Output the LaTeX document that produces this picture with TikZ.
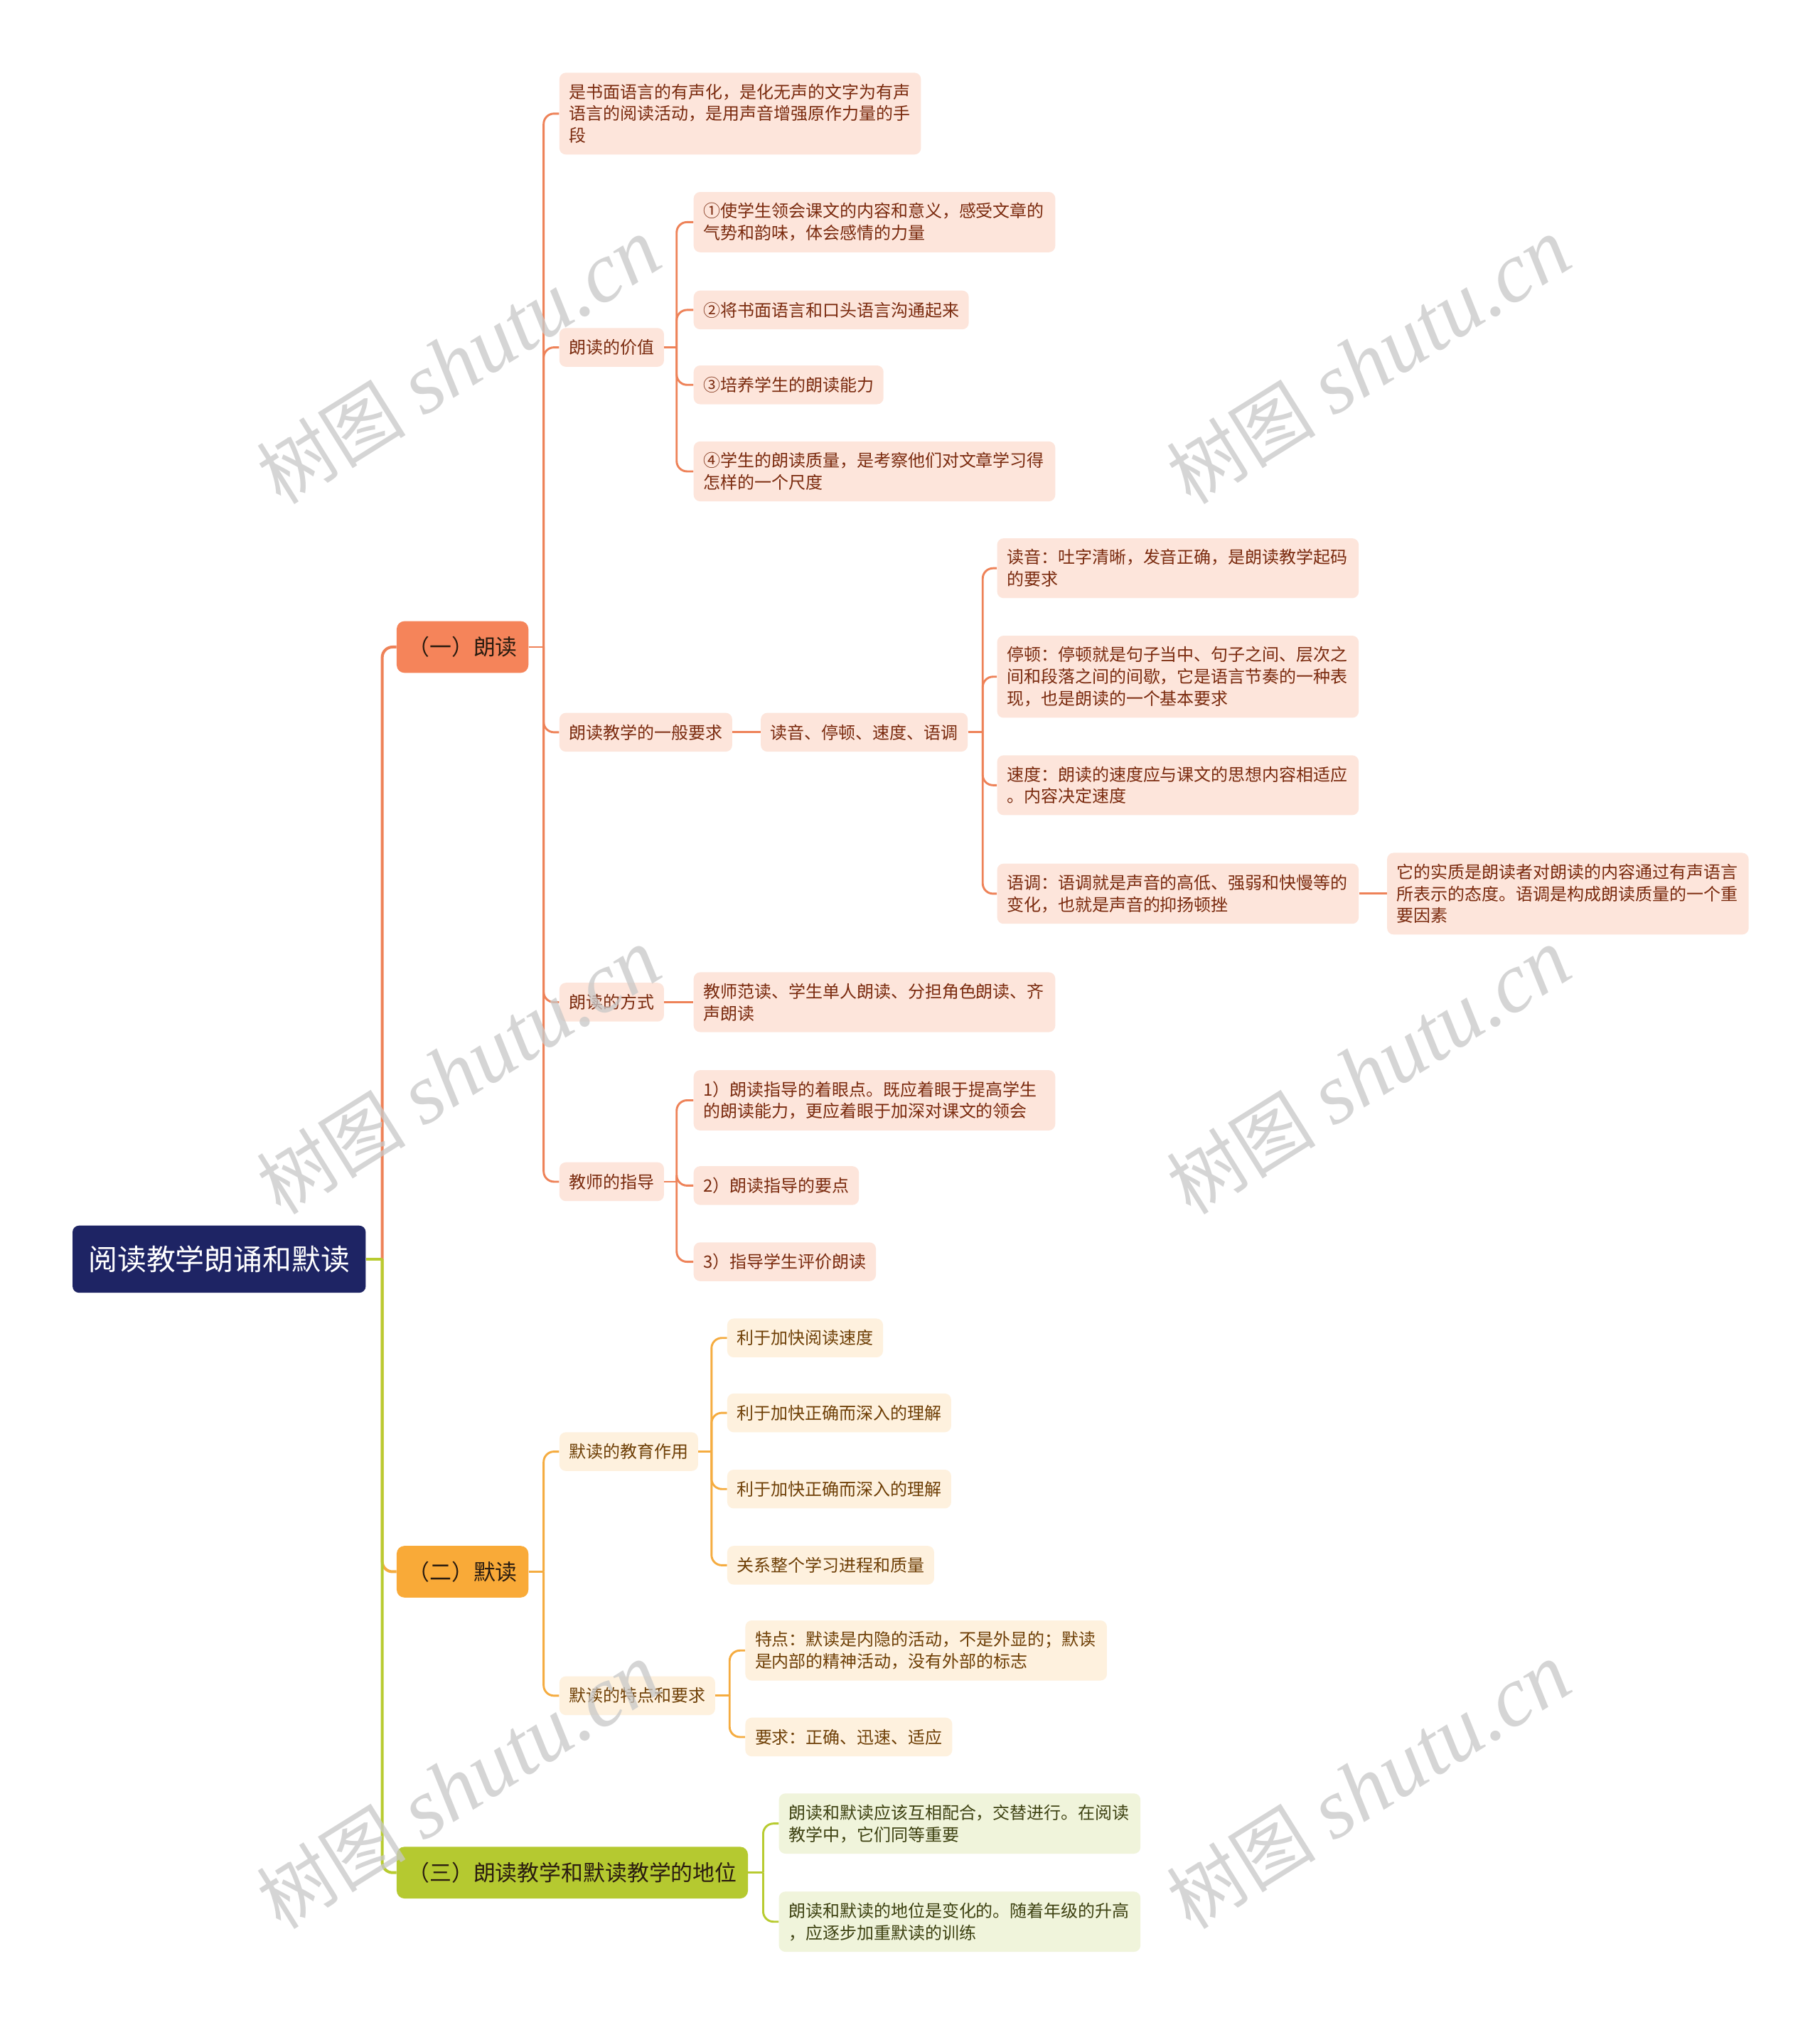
\documentclass[tikz,border=0pt]{standalone}
\usepackage{fontspec}
\newfontfamily\cjk{Noto Sans CJK SC}
\newfontfamily\wmserif{Liberation Serif}
\usetikzlibrary{backgrounds,calc}
\definecolor{navy}{HTML}{1E2464}
\definecolor{fillA}{HTML}{F5845A}
\definecolor{fillB}{HTML}{F9AA38}
\definecolor{fillC}{HTML}{B5C930}
\definecolor{lineA}{HTML}{EE8258}
\definecolor{lineB}{HTML}{F5AC40}
\definecolor{lineC}{HTML}{B8CB30}
\definecolor{subA}{HTML}{FDE5DB}
\definecolor{subB}{HTML}{FEF1DE}
\definecolor{subC}{HTML}{F0F4DB}
\definecolor{txtA}{HTML}{7A2A0E}
\definecolor{txtB}{HTML}{6E3F06}
\definecolor{txtC}{HTML}{3E4212}
\definecolor{txtL}{HTML}{2A1C10}
\definecolor{wmgray}{HTML}{C8C8C8}
\newcommand\mmedge[4]{%
  \coordinate (sx) at (#4,0);
  \coordinate (tmpj) at (#2.east -| sx);
  \draw[#1] (#2.east) -- (tmpj);
  \draw[#1,rounded corners=8pt] (tmpj) |- (#3.west);}
\begin{document}
\begin{tikzpicture}[x=1pt,y=-1pt,
  rootn/.style={fill=navy, text=white, rounded corners=5pt, minimum width=227pt, minimum height=52pt, inner sep=0pt, font=\cjk\fontsize{22.5}{27}\selectfont},
  lone/.style={rounded corners=6pt, minimum height=40pt, inner xsep=8.5pt, inner ysep=0pt, text=txtL, font=\cjk\fontsize{17}{20}\selectfont},
  subn/.style={rounded corners=5pt, inner xsep=7.5pt, inner ysep=8.5pt, minimum height=30pt, align=left, font=\cjk\fontsize{13.2}{17}\selectfont},
  sa/.style={subn, fill=subA, text=txtA},
  sb/.style={subn, fill=subB, text=txtB},
  sc/.style={subn, fill=subC, text=txtC},
  wide/.style={text width=265pt},
  ea/.style={draw=lineA, line width=1.6pt},
  eb/.style={draw=lineB, line width=1.6pt},
  ec/.style={draw=lineC, line width=1.6pt},
  ta/.style={draw=lineA, line width=2.2pt},
  tb/.style={draw=lineB, line width=2.2pt},
  tc/.style={draw=lineC, line width=2.2pt},
  wm/.style={text=wmgray, opacity=0.75, rotate=32, inner sep=0pt}
]
\useasboundingbox (0,0) rectangle (1409,1568);

% root and level 1
\node[rootn, anchor=west] (root) at (56,975) {阅读教学朗诵和默读};
\node[lone, fill=fillA, anchor=west] (n1) at (307,501) {（一）朗读};
\node[lone, fill=fillB, anchor=west] (n2) at (307,1217) {（二）默读};
\node[lone, fill=fillC, anchor=west] (n3) at (307,1450) {（三）朗读教学和默读教学的地位};

% branch 1
\node[sa, wide, anchor=west] (a1) at (433,88) {是书面语言的有声化，是化无声的文字为有声\\语言的阅读活动，是用声音增强原作力量的手\\段};
\node[sa, anchor=west] (a2) at (433,269) {朗读的价值};
\node[sa, wide, anchor=west] (a2a) at (537,172) {①使学生领会课文的内容和意义，感受文章的\\气势和韵味，体会感情的力量};
\node[sa, anchor=west] (a2b) at (537,240) {②将书面语言和口头语言沟通起来};
\node[sa, anchor=west] (a2c) at (537,298) {③培养学生的朗读能力};
\node[sa, wide, anchor=west] (a2d) at (537,365) {④学生的朗读质量，是考察他们对文章学习得\\怎样的一个尺度};
\node[sa, anchor=west] (a3) at (433,567) {朗读教学的一般要求};
\node[sa, anchor=west] (a3x) at (589,567) {读音、停顿、速度、语调};
\node[sa, wide, anchor=west] (a3a) at (772,440) {读音：吐字清晰，发音正确，是朗读教学起码\\的要求};
\node[sa, wide, anchor=west] (a3b) at (772,524) {停顿：停顿就是句子当中、句子之间、层次之\\间和段落之间的间歇，它是语言节奏的一种表\\现，也是朗读的一个基本要求};
\node[sa, wide, anchor=west] (a3c) at (772,608) {速度：朗读的速度应与课文的思想内容相适应\\。内容决定速度};
\node[sa, wide, anchor=west] (a3d) at (772,692) {语调：语调就是声音的高低、强弱和快慢等的\\变化，也就是声音的抑扬顿挫};
\node[sa, wide, anchor=west] (a3e) at (1074,692) {它的实质是朗读者对朗读的内容通过有声语言\\所表示的态度。语调是构成朗读质量的一个重\\要因素};
\node[sa, anchor=west] (a4) at (433,776) {朗读的方式};
\node[sa, wide, anchor=west] (a4a) at (537,776) {教师范读、学生单人朗读、分担角色朗读、齐\\声朗读};
\node[sa, anchor=west] (a5) at (433,915) {教师的指导};
\node[sa, wide, anchor=west] (a5a) at (537,852) {1）朗读指导的着眼点。既应着眼于提高学生\\的朗读能力，更应着眼于加深对课文的领会};
\node[sa, anchor=west] (a5b) at (537,918) {2）朗读指导的要点};
\node[sa, anchor=west] (a5c) at (537,977) {3）指导学生评价朗读};

% branch 2
\node[sb, anchor=west] (b1) at (433,1124) {默读的教育作用};
\node[sb, anchor=west] (b1a) at (563,1036) {利于加快阅读速度};
\node[sb, anchor=west] (b1b) at (563,1094) {利于加快正确而深入的理解};
\node[sb, anchor=west] (b1c) at (563,1153) {利于加快正确而深入的理解};
\node[sb, anchor=west] (b1d) at (563,1212) {关系整个学习进程和质量};
\node[sb, anchor=west] (b2) at (433,1313) {默读的特点和要求};
\node[sb, wide, anchor=west] (b2a) at (577,1278) {特点：默读是内隐的活动，不是外显的；默读\\是内部的精神活动，没有外部的标志};
\node[sb, anchor=west] (b2b) at (577,1345) {要求：正确、迅速、适应};

% branch 3
\node[sc, wide, anchor=west] (c1) at (603,1412) {朗读和默读应该互相配合，交替进行。在阅读\\教学中，它们同等重要};
\node[sc, wide, anchor=west] (c2) at (603,1488) {朗读和默读的地位是变化的。随着年级的升高\\，应逐步加重默读的训练};

\begin{pgfonlayer}{background}
  \fill[white] (0,0) rectangle (1409,1568);
  % trunk
  \mmedge{ta}{root}{n1}{296}
  \mmedge{tb}{root}{n2}{296}
  \mmedge{tc}{root}{n3}{296}
  % branch 1
  \mmedge{ea}{n1}{a1}{421}
  \mmedge{ea}{n1}{a2}{421}
  \mmedge{ea}{n1}{a3}{421}
  \mmedge{ea}{n1}{a4}{421}
  \mmedge{ea}{n1}{a5}{421}
  \mmedge{ea}{a2}{a2a}{524}
  \mmedge{ea}{a2}{a2b}{524}
  \mmedge{ea}{a2}{a2c}{524}
  \mmedge{ea}{a2}{a2d}{524}
  \draw[ea] (a3.east) -- (a3x.west);
  \mmedge{ea}{a3x}{a3a}{761}
  \mmedge{ea}{a3x}{a3b}{761}
  \mmedge{ea}{a3x}{a3c}{761}
  \mmedge{ea}{a3x}{a3d}{761}
  \draw[ea] (a3d.east) -- (a3e.west);
  \draw[ea] (a4.east) -- (a4a.west);
  \mmedge{ea}{a5}{a5a}{524}
  \mmedge{ea}{a5}{a5b}{524}
  \mmedge{ea}{a5}{a5c}{524}
  % branch 2
  \mmedge{eb}{n2}{b1}{421}
  \mmedge{eb}{n2}{b2}{421}
  \mmedge{eb}{b1}{b1a}{551}
  \mmedge{eb}{b1}{b1b}{551}
  \mmedge{eb}{b1}{b1c}{551}
  \mmedge{eb}{b1}{b1d}{551}
  \mmedge{eb}{b2}{b2a}{565}
  \mmedge{eb}{b2}{b2b}{565}
  % branch 3
  \mmedge{ec}{n3}{c1}{591}
  \mmedge{ec}{n3}{c2}{591}
\end{pgfonlayer}

% watermarks
\foreach \wx/\wy [count=\i] in {355/280,1060/280,355/830,1060/830,355/1383,1060/1383}{
  \node[wm] (wm\i) at (\wx,\wy) {{\cjk\fontsize{58}{60}\selectfont 树图}\hspace{14pt}{\wmserif\itshape\fontsize{66}{70}\selectfont shutu.cn}};
}
\end{tikzpicture}
\end{document}
